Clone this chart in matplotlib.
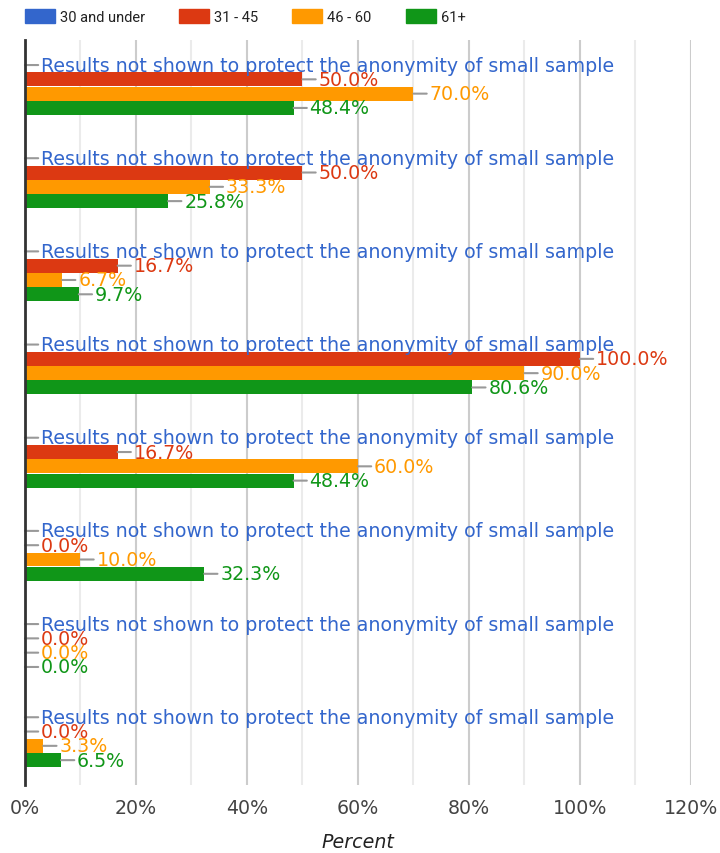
import matplotlib.pyplot as plt
from matplotlib.ticker import MultipleLocator, FuncFormatter

series = ["30 and under", "31 - 45", "46 - 60", "61+"]
colors = ["#3366cc", "#dc3912", "#ff9900", "#109618"]

# 8 questions, no category labels shown in the chart
under_30 = [None] * 8
age_31_45 = [50.0, 50.0, 16.7, 100.0, 16.7, 0.0, 0.0, 0.0]
age_46_60 = [70.0, 33.3, 6.7, 90.0, 60.0, 10.0, 0.0, 3.3]
age_61_up = [48.4, 25.8, 9.7, 80.6, 48.4, 32.3, 0.0, 6.5]
hidden_note = "Results not shown to protect the anonymity of small sample"

fig = plt.figure(figsize=(7.2, 8.54), dpi=100)
ax = fig.add_axes([0.0347, 0.0793, 0.925, 0.8728])

n = len(age_31_45)
step = 0.1535
values = [under_30, age_31_45, age_46_60, age_61_up]

for s, vals in enumerate(values):
    for g in range(n):
        y = g + (s - 1.5) * step
        v = vals[g]
        if v is None:
            label = hidden_note
            v = 0
        else:
            label = f"{v:.1f}%"
            if v > 0:
                ax.barh(y, v, height=0.15, color=colors[s], zorder=2)
        ax.annotate(label, xy=(v, y), xytext=(16, 0), textcoords="offset pixels",
                    ha="left", va="center", fontsize=13.7, color=colors[s],
                    arrowprops=dict(arrowstyle="-", color="#999999", lw=1.5,
                                    shrinkA=0, shrinkB=0, relpos=(0, 0.5)),
                    zorder=3, annotation_clip=False)

ax.set_xlim(0, 120)
ax.set_ylim(n - 0.5, -0.5)
ax.set_yticks([])
ax.xaxis.set_major_locator(MultipleLocator(20))
ax.xaxis.set_minor_locator(MultipleLocator(10))
ax.xaxis.set_major_formatter(FuncFormatter(lambda x, p: f"{x:.0f}%"))
ax.grid(True, which="major", axis="x", color="#cccccc", lw=1.5, zorder=0)
ax.grid(True, which="minor", axis="x", color="#ebebeb", lw=1.5, zorder=0)
ax.tick_params(axis="x", which="both", length=0, pad=9, labelsize=13.7, labelcolor="#444444")
for sp in ["top", "right", "bottom"]:
    ax.spines[sp].set_visible(False)
ax.spines["left"].set_color("#333333")
ax.spines["left"].set_linewidth(2)
ax.spines["left"].set_zorder(4)
ax.set_xlabel("Percent", fontsize=13.7, style="italic", color="#222222", labelpad=11)

handles = [plt.Rectangle((0, 0), 1, 1, color=c) for c in colors]
fig.legend(handles, series, loc="upper left", bbox_to_anchor=(0.016, 1.004), ncol=4,
           frameon=False, prop={"family": "Roboto", "size": 10.5}, handlelength=2.06,
           handleheight=1.15, handletextpad=0.34, columnspacing=2.35, labelcolor="#222222")

fig.savefig("out.png", dpi=100)
